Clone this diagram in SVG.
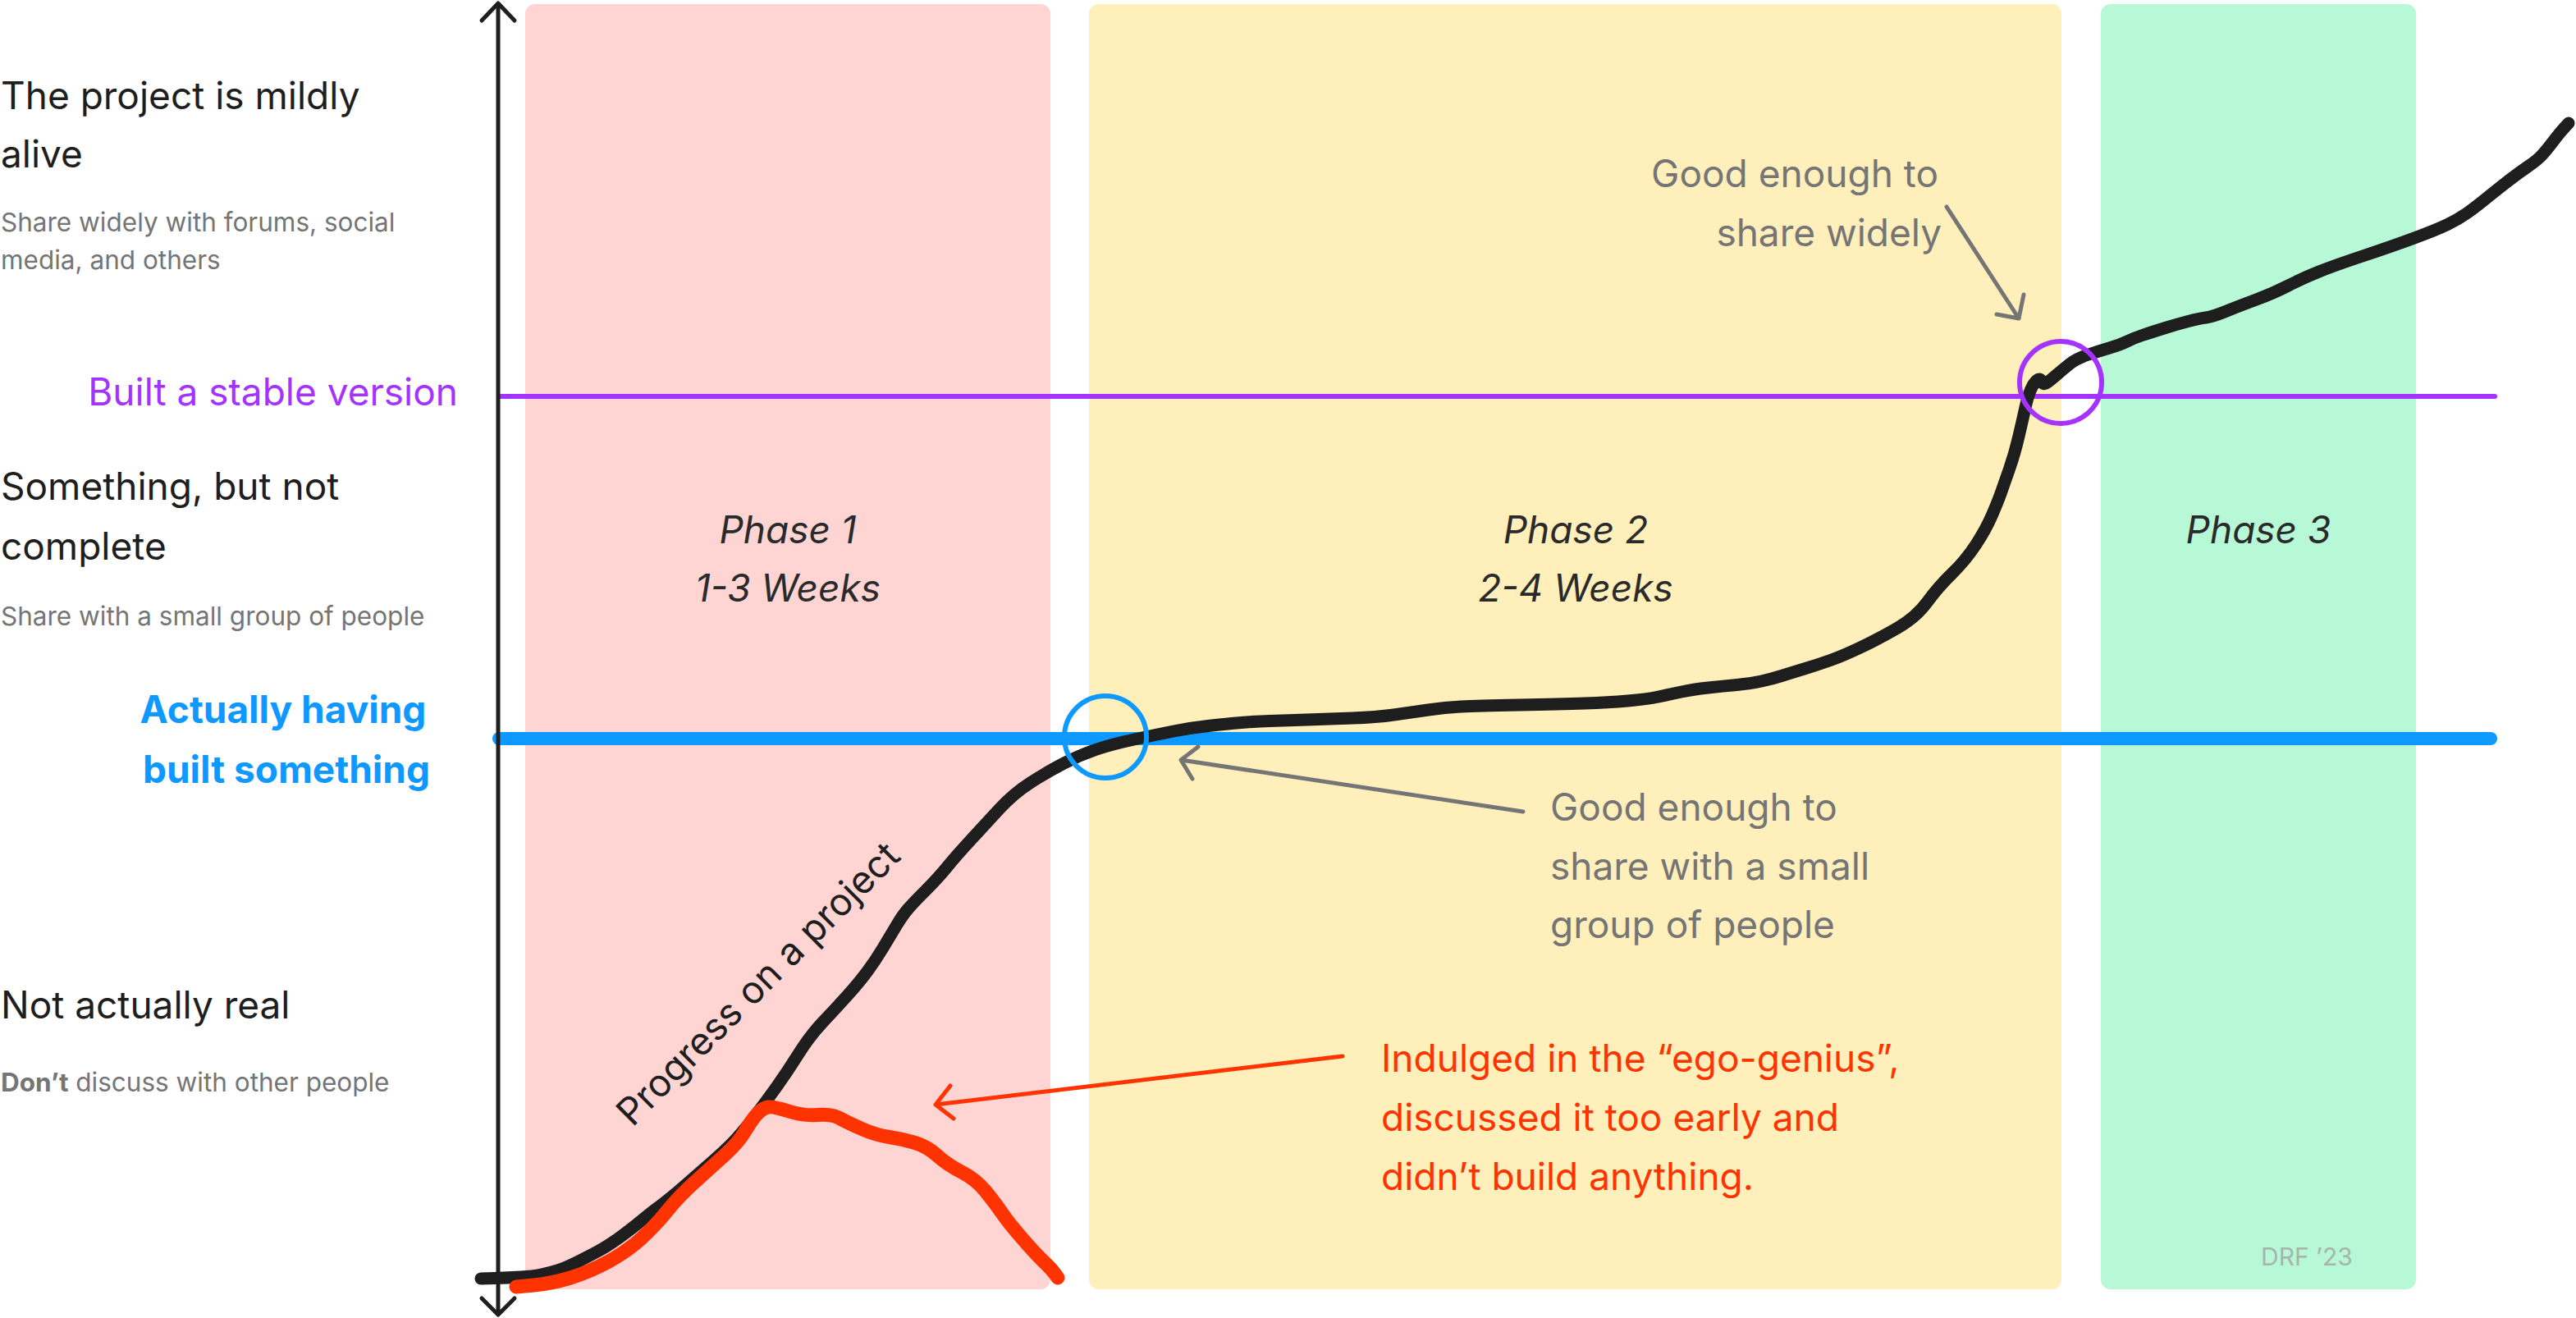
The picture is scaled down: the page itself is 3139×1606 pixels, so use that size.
<svg xmlns="http://www.w3.org/2000/svg" width="3139" height="1606" viewBox="0 0 3139 1606">
<defs>
<style>
text{font-family:Inter,"Liberation Sans",sans-serif;}
.main{font-size:46px;fill:#1E1E1E;}
.sub{font-size:31.5px;fill:#757575;}
.phase{font-size:46px;font-style:italic;fill:#2A2A2A;text-anchor:middle;}
.note{font-size:46px;fill:#757575;}
.red{font-size:46px;fill:#FF3300;}
.garrow{fill:none;stroke:#757575;stroke-width:5;stroke-linecap:round;stroke-linejoin:round;}
.rarrow{fill:none;stroke:#FF3300;stroke-width:5;stroke-linecap:round;stroke-linejoin:round;}
</style>
</defs>
<rect width="3139" height="1606" fill="#FFFFFF"/>
<g id="phase1">
<rect x="640" y="5" width="640" height="1566" rx="12" fill="#FFD5D4"/>
<text class="phase" x="960" y="662">Phase 1</text>
<text class="phase" x="960" y="733">1-3 Weeks</text>
</g>
<g id="phase2">
<rect x="1327" y="5" width="1185" height="1566" rx="12" fill="#FFEFBA"/>
<text class="phase" x="1920" y="662">Phase 2</text>
<text class="phase" x="1920" y="733">2-4 Weeks</text>
</g>
<g id="phase3">
<rect x="2560" y="5" width="384" height="1566" rx="12" fill="#B7F9D6"/>
<text class="phase" x="2752" y="662">Phase 3</text>
<text x="2755" y="1542" font-size="30" fill="#A8B5AD">DRF ’23</text>
</g>
<g id="level-alive">
<text class="main" x="1" y="133">The project is mildly</text>
<text class="main" x="1" y="204">alive</text>
<text class="sub" x="1" y="282">Share widely with forums, social</text>
<text class="sub" x="1" y="328">media, and others</text>
</g>
<g id="level-something">
<text class="main" x="1" y="609">Something, but not</text>
<text class="main" x="1" y="682">complete</text>
<text class="sub" x="1" y="762">Share with a small group of people</text>
</g>
<g id="level-notreal">
<text class="main" x="1" y="1241">Not actually real</text>
<text class="sub" x="1" y="1330"><tspan font-weight="700">Don’t</tspan> discuss with other people</text>
</g>
<g id="stable-line">
<line x1="609" y1="483" x2="3040" y2="483" stroke="#A533FF" stroke-width="6" stroke-linecap="round"/>
<text x="558" y="494" font-size="46" fill="#A533FF" text-anchor="end">Built a stable version</text>
</g>
<g id="built-line">
<line x1="608" y1="900" x2="3035" y2="900" stroke="#0D99FF" stroke-width="16" stroke-linecap="round"/>
<text x="345" y="881" font-size="46" font-weight="700" fill="#0D99FF" text-anchor="middle">Actually having</text>
<text x="349" y="954" font-size="46" font-weight="700" fill="#0D99FF" text-anchor="middle">built something</text>
</g>
<g id="axis">
<line x1="607" y1="5" x2="607" y2="1601" stroke="#1E1E1E" stroke-width="5"/>
<polyline points="587,25 607,4 627,25" fill="none" stroke="#1E1E1E" stroke-width="5" stroke-linecap="round" stroke-linejoin="round"/>
<polyline points="587,1582 607,1602 627,1582" fill="none" stroke="#1E1E1E" stroke-width="5" stroke-linecap="round" stroke-linejoin="round"/>
</g>
<g id="progress-curve">
<path fill="none" stroke="#1E1E1E" stroke-width="15" stroke-linecap="round" stroke-linejoin="round" d="M586,1558 L603,1557.5 Q620,1557 634.5,1556 Q649,1555 659.5,1553 Q670,1551 679.5,1548 Q689,1545 702,1538.5 Q715,1532 728,1525 Q741,1518 755.5,1507.5 Q770,1497 782.5,1486.5 Q795,1476 805.5,1468.5 Q816,1461 836,1443.5 Q856,1426 868,1415.5 Q880,1405 891,1394 Q902,1383 917.5,1363 Q933,1343 946.5,1324 Q960,1305 973.5,1283.5 Q987,1262 1003.5,1244.5 Q1020,1227 1033.5,1212 Q1047,1197 1057,1183.5 Q1067,1170 1076,1155 Q1085,1140 1092.5,1127.5 Q1100,1115 1106.5,1107.5 Q1113,1100 1128,1085 Q1143,1070 1154,1056.5 Q1165,1043 1182.5,1024 Q1200,1005 1217.5,986 Q1235,967 1256,953.5 Q1277,940 1296.5,930 Q1316,920 1335,913.5 Q1354,907 1382,901 Q1410,895 1430,891 Q1450,887 1472.5,884.5 Q1495,882 1512.5,880.5 Q1530,879 1547.5,878.5 Q1565,878 1592.5,877 Q1620,876 1648.5,875 Q1677,874 1698.5,871 Q1720,868 1740.5,865 Q1761,862 1780.5,861 Q1800,860 1851,859 Q1902,858 1931,857 Q1960,856 1983.5,854 Q2007,852 2021,849 Q2035,846 2049,843 Q2063,840 2081.5,838 Q2100,836 2116.5,834.5 Q2133,833 2146.5,830 Q2160,827 2171,823.5 Q2182,820 2198.5,815 Q2215,810 2230.5,804.5 Q2246,799 2268,788.5 Q2290,778 2312.5,765 Q2335,752 2348.5,733.5 Q2362,715 2378.5,699 Q2395,683 2407.5,664 Q2420,645 2427.5,627.5 Q2435,610 2438.5,600 Q2442,590 2448.5,571.5 Q2455,553 2460,531.5 Q2465,510 2468,496.5 Q2471,483 2474.5,475 Q2478,467 2482,463.5 Q2486,460 2488,465 Q2490,470 2495,466 Q2500,462 2507,456 Q2514,450 2522,443.5 Q2530,437 2543.5,432.5 Q2557,428 2570.5,424 Q2584,420 2592,416 Q2600,412 2610.5,408.5 Q2621,405 2637,400 Q2653,395 2666.5,391.5 Q2680,388 2688,387 Q2696,386 2712,379.5 Q2728,373 2749.5,365 Q2771,357 2789.5,347.5 Q2808,338 2827,330.5 Q2846,323 2880.5,311.5 Q2915,300 2942,290 Q2969,280 2982.5,273.5 Q2996,267 3006.5,259.5 Q3017,252 3030.5,241 Q3044,230 3057,220 Q3070,210 3081,202.5 Q3092,195 3097.5,189 Q3103,183 3111,172.5 Q3119,162 3124.5,156 L3130,150"/>
<text x="935" y="1210" font-size="46" fill="#1E1E1E" text-anchor="middle" transform="rotate(-45 935 1210)">Progress on a project</text>
</g>
<g id="ego-curve">
<path fill="none" stroke="#FF3300" stroke-width="17" stroke-linecap="round" stroke-linejoin="round" d="M629,1568 L650.5,1566 Q672,1564 695,1557 Q718,1550 741,1537.5 Q764,1525 781.5,1509 Q799,1493 813,1475.5 Q827,1458 847,1440 Q867,1422 883.5,1407 Q900,1392 908.5,1377.5 Q917,1363 923.5,1356.5 Q930,1350 936,1349 Q942,1348 961,1354 Q980,1360 996.5,1358.5 Q1013,1357 1023,1362.5 Q1033,1368 1050,1375.5 Q1067,1383 1083.5,1385.5 Q1100,1388 1115,1392.5 Q1130,1397 1142,1408 Q1154,1419 1171.5,1428 Q1189,1437 1200.5,1451 Q1212,1465 1220.5,1477.5 Q1229,1490 1246,1509.5 Q1263,1529 1272,1537.5 Q1281,1546 1285,1551.5 L1289,1557"/>
</g>
<g id="circles">
<circle cx="1347" cy="898" r="50" fill="none" stroke="#0D99FF" stroke-width="6"/>
<circle cx="2511" cy="466" r="50" fill="none" stroke="#A533FF" stroke-width="6"/>
</g>
<g id="note-small">
<text class="note" x="1889" y="1000">Good enough to</text>
<text class="note" x="1889" y="1072">share with a small</text>
<text class="note" x="1889" y="1143">group of people</text>
</g>
<g id="note-wide">
<text class="note" x="2362" y="228" text-anchor="end">Good enough to</text>
<text class="note" x="2366" y="300" text-anchor="end">share widely</text>
</g>
<g id="note-ego">
<text class="red" x="1683" y="1306">Indulged in the “ego-genius”,</text>
<text class="red" x="1683" y="1378">discussed it too early and</text>
<text class="red" x="1683" y="1450">didn’t build anything.</text>
</g>
<g id="connectors">
<path class="garrow" d="M1856,989 L1439,926 M1460,910 L1439,926 L1453,949"/>
<path class="garrow" d="M2372,252 L2460,388 M2433,383 L2460,388 L2466,359"/>
<path class="rarrow" d="M1636,1287 L1140,1346 M1158,1323 L1140,1346 L1162,1363"/>
</g>
</svg>
